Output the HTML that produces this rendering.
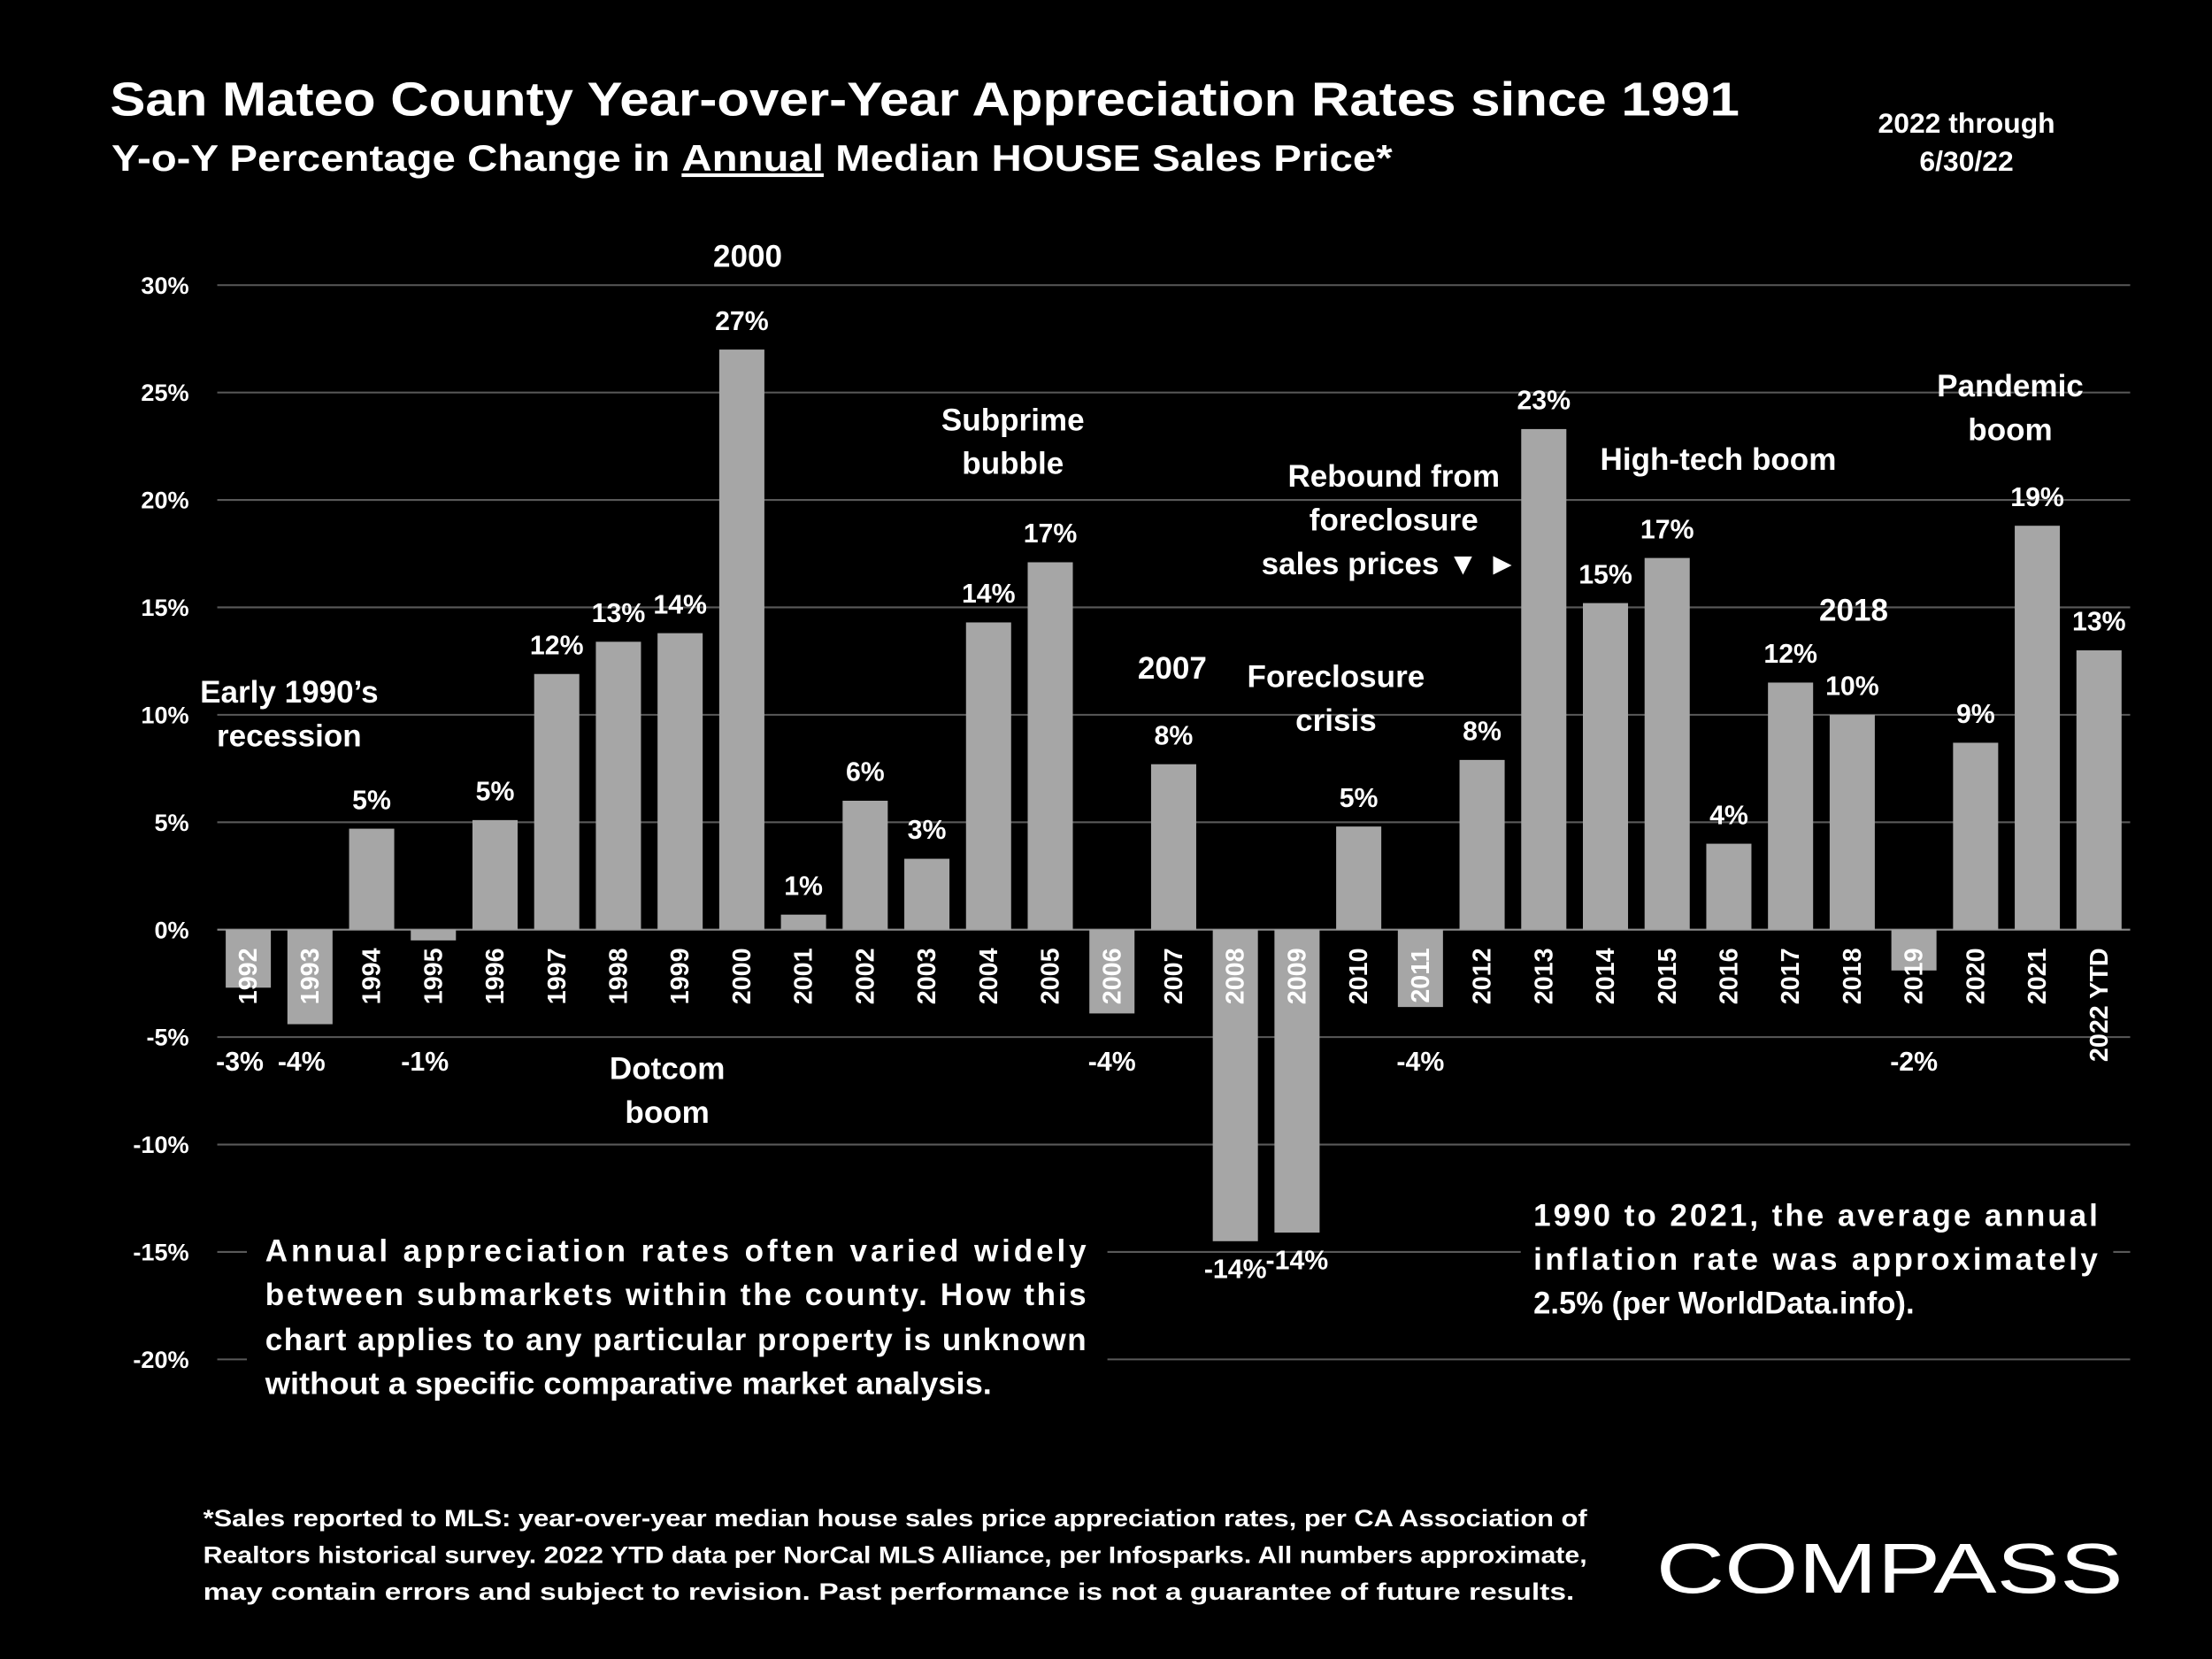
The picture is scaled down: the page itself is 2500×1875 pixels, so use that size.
<!DOCTYPE html>
<html><head><meta charset="utf-8"><style>
html,body{margin:0;padding:0;background:#000;}
svg{display:block;font-family:"Liberation Sans",sans-serif;font-weight:bold;}
</style></head><body>
<svg id="chart" width="2500" height="1875" viewBox="0 0 1568 1176" xmlns="http://www.w3.org/2000/svg">
<rect width="1568" height="1176" fill="#000"/>
<text x="78" y="82" font-size="34" fill="#fff" textLength="1155" lengthAdjust="spacingAndGlyphs">San Mateo County Year-over-Year Appreciation Rates since 1991</text>
<text x="79" y="121" font-size="26" fill="#fff" textLength="908" lengthAdjust="spacingAndGlyphs">Y-o-Y Percentage Change in <tspan text-decoration="underline">Annual</tspan> Median HOUSE Sales Price*</text>
<g fill="#fff" font-size="20" text-anchor="middle">
<text x="1394" y="94">2022 through</text><text x="1394" y="121">6/30/22</text></g>
<g id="grid"></g><g id="yticks"></g><g id="bars"></g><g id="years"></g><g id="vals"></g>
<g id="annot" fill="#fff" font-size="22" text-anchor="middle"></g>
<g>
<rect x="175" y="866" width="610" height="130" fill="#000"/>
<g fill="#fff" font-size="22">
<text x="188" y="894" textLength="582" lengthAdjust="spacing">Annual appreciation rates often varied widely</text>
<text x="188" y="925" textLength="582" lengthAdjust="spacing">between submarkets within the county. How this</text>
<text x="188" y="957" textLength="582" lengthAdjust="spacing">chart applies to any particular property is unknown</text>
<text x="188" y="988" textLength="515" lengthAdjust="spacingAndGlyphs">without a specific comparative market analysis.</text></g></g>
<g>
<rect x="1078" y="842" width="420" height="100" fill="#000"/>
<g fill="#fff" font-size="22">
<text x="1087" y="869" textLength="400" lengthAdjust="spacing">1990 to 2021, the average annual</text>
<text x="1087" y="900" textLength="400" lengthAdjust="spacing">inflation rate was approximately</text>
<text x="1087" y="931" textLength="270" lengthAdjust="spacingAndGlyphs">2.5% (per WorldData.info).</text></g></g>
<g fill="#fff" font-size="17">
<text x="144" y="1082" textLength="981" lengthAdjust="spacingAndGlyphs">*Sales reported to MLS: year-over-year median house sales price appreciation rates, per CA Association of</text>
<text x="144" y="1108" textLength="981" lengthAdjust="spacingAndGlyphs">Realtors historical survey. 2022 YTD data per NorCal MLS Alliance, per Infosparks. All numbers approximate,</text>
<text x="144" y="1134" textLength="972" lengthAdjust="spacingAndGlyphs">may contain errors and subject to revision. Past performance is not a guarantee of future results.</text></g>
<text x="1174" y="1129" font-size="50" font-weight="normal" fill="#fff" textLength="331" lengthAdjust="spacingAndGlyphs">COMPASS</text>
</svg>
<script>
const categories=["1992","1993","1994","1995","1996","1997","1998","1999","2000","2001","2002","2003","2004","2005","2006","2007","2008","2009","2010","2011","2012","2013","2014","2015","2016","2017","2018","2019","2020","2021","2022 YTD"];
const values=[-2.7,-4.4,4.7,-0.5,5.1,11.9,13.4,13.8,27.0,0.7,6.0,3.3,14.3,17.1,-3.9,7.7,-14.5,-14.1,4.8,-3.6,7.9,23.3,15.2,17.3,4.0,11.5,10.0,-1.9,8.7,18.8,13.0];
const valueLabels=["-3%","-4%","5%","-1%","5%","12%","13%","14%","27%","1%","6%","3%","14%","17%","-4%","8%","-14%","-14%","5%","-4%","8%","23%","15%","17%","4%","12%","10%","-2%","9%","19%","13%"];
const yTicks=[30,25,20,15,10,5,0,-5,-10,-15,-20];
const yTickLabels=["30%","25%","20%","15%","10%","5%","0%","-5%","-10%","-15%","-20%"];
const NS="http://www.w3.org/2000/svg";
function y(v){return 659-v*15.23;}
function x(i){return 176+i*43.73;}
function mk(tag,attrs,parent,txt){const e=document.createElementNS(NS,tag);for(const k in attrs)e.setAttribute(k,attrs[k]);if(txt!==undefined)e.textContent=txt;parent.appendChild(e);return e;}
const grid=document.getElementById('grid'),yt=document.getElementById('yticks');
yTicks.forEach((t,i)=>{
 const l=mk('line',{x1:154,x2:1510,y1:y(t),y2:y(t),stroke:t===0?'#8c8c8c':'#595959','stroke-width':1.3},grid);
 
 
 const tx=mk('text',{x:134,y:y(t)+6,'font-size':17,fill:'#fff','text-anchor':'end'},yt,yTickLabels[i]);
 
 
});
const bars=document.getElementById('bars'),yrs=document.getElementById('years'),vals=document.getElementById('vals');
categories.forEach((c,i)=>{
 const v=values[i],cx=x(i),top=Math.min(y(v),y(0)),h=Math.abs(y(v)-y(0));
 const b=mk('rect',{x:cx-16,y:top,width:32,height:h,fill:'#a6a6a6'},bars);
 
 
 const t=mk('text',{x:0,y:0,'font-size':18,fill:'#fff','text-anchor':'end',transform:'translate('+(cx+6)+',672) rotate(-90)'},yrs,c);
 
 
 let ly;
 if(v>=0) ly=y(v)-14;
 else if(v<-8) ly=y(v)+26;
 else ly=759;
 const lx=(v<0&&v>=-8&&i<4)?cx-6:cx;
 const vl=mk('text',{x:lx,y:ly,'font-size':19,fill:'#fff','text-anchor':'middle'},vals,valueLabels[i]);
 
 
});
const notes=[["2000",530,189],["Early 1990\u2019s",205,498],["recession",205,529],["Dotcom",473,765],["boom",473,796],["Subprime",718,305],["bubble",718,336],["2007",831,481],["Foreclosure",947,487],["crisis",947,518],["Rebound from",988,345],["foreclosure",988,376],["sales prices \u25BC \u25BA",985,407],["High-tech boom",1218,333],["2018",1314,440],["Pandemic",1425,281],["boom",1425,312]];
const an=document.getElementById('annot');
notes.forEach(n=>{
 const t=mk('text',{x:n[1],y:n[2]},an,n[0]);
 
 
});
</script>
</body></html>
